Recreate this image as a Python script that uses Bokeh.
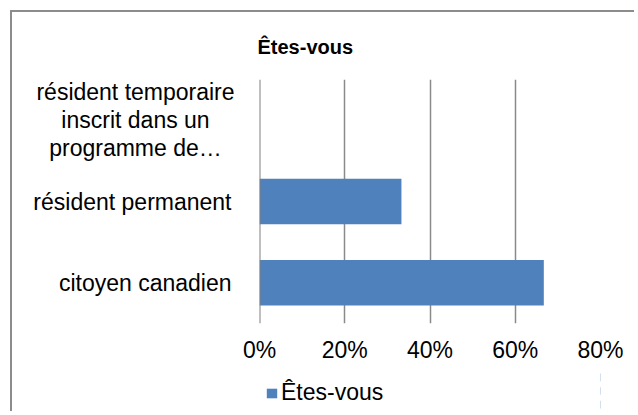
from bokeh.plotting import figure
from bokeh.layouts import column
from bokeh.models import (ColumnDataSource, FactorRange, Range1d, FixedTicker,
                          NumeralTickFormatter, Legend, LegendItem, Span)
from bokeh.core.properties import value
from bokeh.embed import file_html
from bokeh.resources import INLINE

# ---- data ----
categories = ["citoyen canadien", "résident permanent",
              "résident temporaire inscrit dans un programme de…"]
display_labels = ["citoyen canadien", "résident permanent",
                  "résident temporaire\ninscrit dans un\nprogramme de…"]
label_align = ["right", "right", "center"]
label_offset = [-28, -28, -124]
values = [0.667, 0.333, 0.0]
x_ticks = [0.0, 0.2, 0.4, 0.6, 0.8]
series_name = "Êtes-vous"
title_text = "Êtes-vous"

FONT = "Liberation Sans"
FS = "23px"
GRID = "#8a8a8a"
BLUE = "#4f81bd"
EDGE = "2px solid #8c8c8c"

OFF = 12  # page offset of the canvas (margin 10 + border 2)
W, H1, H2 = 624, 360, 41
p = figure(width=W, height=H1, output_backend="svg", toolbar_location=None,
           y_range=FactorRange(factors=categories), x_range=Range1d(0, 0.8),
           min_border_left=259 - OFF, min_border_right=W - (600 - OFF),
           min_border_top=79 - OFF, min_border_bottom=H1 + OFF - 323)
p.styles = {"border-left": EDGE, "border-top": EDGE,
            "margin-left": "10px", "margin-top": "10px"}

src = ColumnDataSource(dict(cat=categories, val=values))
r = p.hbar(y="cat", left=0, right="val", height=0.56, source=src,
           fill_color=BLUE, line_color=None)

# title
p.title.text = title_text
p.title.text_font = FONT
p.title.text_font_size = "20px"
p.title.text_font_style = "bold"
p.title.text_color = "black"
p.title.align = "left"
p.title.offset = -2
p.title.standoff = 43

# x axis
xa = p.xaxis[0]
xa.ticker = FixedTicker(ticks=x_ticks)
xa.formatter = NumeralTickFormatter(format="0%")
xa.axis_line_color = None
xa.major_tick_line_color = None
xa.minor_tick_line_color = None
xa.major_tick_out = 0
xa.major_tick_in = 0
xa.major_label_standoff = 13
xa.major_label_text_font = FONT
xa.major_label_text_font_size = FS
xa.major_label_text_color = "black"

# y axis: drawn as a vertical line at zero, labels as text
p.yaxis.visible = False
p.add_layout(Span(location=0, dimension="height", line_color="#808080", line_width=2))

lab_src = ColumnDataSource(dict(cat=categories, x=[0.0] * 3, txt=display_labels,
                                align=label_align, off=label_offset))
p.text(x="x", y="cat", text="txt", source=lab_src, x_offset="off",
       text_align="align", text_baseline="middle",
       text_font=value(FONT), text_font_size=FS, text_color="black",
       text_line_height=1.07, level="overlay")

p.ygrid.grid_line_color = None
p.xgrid.ticker = FixedTicker(ticks=x_ticks)
p.xgrid.grid_line_color = GRID
p.xgrid.grid_line_width = 1.5

p.outline_line_color = None
p.background_fill_color = "white"
p.border_fill_color = "white"

# ---- legend strip below the chart ----
p2 = figure(width=W, height=H2, output_backend="svg", toolbar_location=None,
            y_range=FactorRange(factors=categories), x_range=Range1d(-2, -1),
            x_axis_location=None, y_axis_location=None,
            min_border_left=0, min_border_right=0, min_border_top=0, min_border_bottom=0)
p2.styles = {"border-left": EDGE, "margin-left": "10px"}
p2.grid.visible = False
p2.outline_line_color = None
r2 = p2.hbar(y="cat", left=0, right="val", height=0.56, source=src,
             fill_color=BLUE, line_color=None)

legend = Legend(items=[LegendItem(label=series_name, renderers=[r2])],
                location=(6, 5), orientation="horizontal",
                glyph_width=13, glyph_height=12, label_standoff=3,
                padding=0, margin=0, border_line_color=None,
                background_fill_alpha=0,
                label_text_font=FONT, label_text_font_size=FS,
                label_text_color="black")
p2.add_layout(legend, "center")

layout = column(p, p2, spacing=0)
open("out.html", "w").write(file_html(layout, INLINE))
